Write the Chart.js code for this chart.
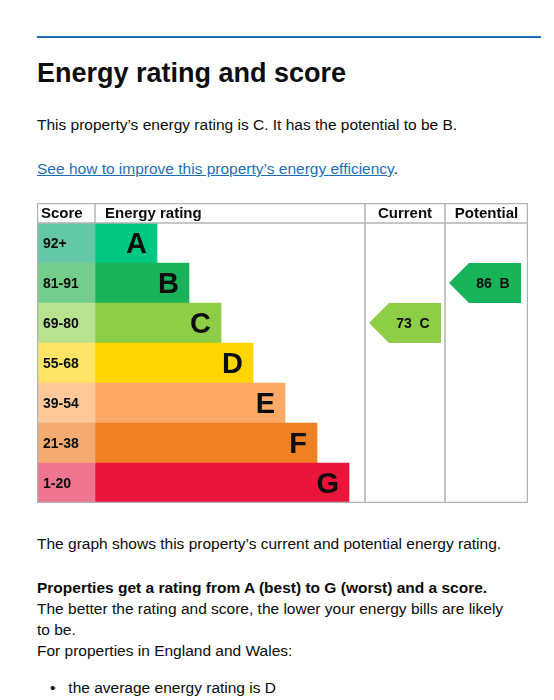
<!DOCTYPE html>
<html><head><meta charset="utf-8">
<script src="https://cdn.jsdelivr.net/npm/chart.js@4"></script>
<style>
body{margin:0;font-family:"Liberation Sans",Arial,sans-serif;color:#0b0c0c;width:554px;height:700px;overflow:hidden;position:relative;background:#fff}
.a{position:absolute;left:37px;margin:0}
</style></head><body>
<div style="position:absolute;left:37px;top:36px;width:504px;height:2px;background:#1d70b8"></div>
<h2 class="a" style="top:58px;font-size:27px;font-weight:bold">Energy rating and score</h2>
<p class="a" style="top:116px;font-size:15.5px">This property’s energy rating is C. It has the potential to be B.</p>
<p class="a" style="top:160px;font-size:15.5px"><a style="color:#1d70b8" href="#">See how to improve this property’s energy efficiency</a>.</p>
<div style="position:absolute;left:37px;top:203px;width:491px;height:300px"><canvas id="c"></canvas></div>
<p class="a" style="top:535px;font-size:15.5px">The graph shows this property’s current and potential energy rating.</p>
<p class="a" style="top:577px;font-size:15.5px;line-height:21px;width:480px"><b>Properties get a rating from A (best) to G (worst) and a score.</b> The better the rating and score, the lower your energy bills are likely to be.</p>
<p class="a" style="top:642px;font-size:15.5px">For properties in England and Wales:</p>
<p class="a" style="top:679px;font-size:15.5px;left:50px">•&nbsp;&nbsp;&nbsp;the average energy rating is D</p>
<script>
const bands=["A","B","C","D","E","F","G"];
const scoreRanges=["92+","81-91","69-80","55-68","39-54","21-38","1-20"];
const bandMins=[92,81,69,55,39,21,1];
const bandEnds=[120,152,184,216,248,280,312];
const bandColors=["#00c781","#19b459","#8dce46","#ffd500","#fcaa65","#ef8023","#e9153b"];
const scoreColors=["#64c8a6","#75cd8b","#b8e190","#ffe465","#fec898","#f4ab72","#f07590"];
const currentScore=73, potentialScore=86;
const SC=58, CUR=328, POT=408, MAX=491;
function bandOf(s){return bandMins.findIndex(m=>s>=m);}
const F='"Liberation Sans",Arial,sans-serif';
const plug={id:'epc',afterDatasetsDraw(ch){
 const c=ch.ctx,x=ch.scales.x,y=ch.scales.y,X=v=>x.getPixelForValue(v);
 const top=0,bot=ch.height,hb=y.getPixelForValue(0)-y.height/14;
 c.save();c.strokeStyle='#b1b4b6';c.lineWidth=1.5;
 c.strokeRect(X(0)+.5,top+.5,X(MAX)-X(0)-1,bot-1);
 [[CUR,0,bot],[POT,0,bot],[SC,0,hb]].forEach(([v,a,b])=>{c.beginPath();c.moveTo(X(v),a);c.lineTo(X(v),b);c.stroke();});
 c.beginPath();c.moveTo(X(0),hb);c.lineTo(X(MAX),hb);c.stroke();
 c.fillStyle='#0b0c0c';c.font='bold 15px '+F;c.textBaseline='middle';
 c.fillText('Score',X(4),hb/2+1);c.fillText('Energy rating',X(68),hb/2+1);
 c.textAlign='center';c.fillText('Current',(X(CUR)+X(POT))/2,hb/2+1);c.fillText('Potential',(X(POT)+X(MAX))/2,hb/2+1);
 c.textAlign='left';c.font='bold 14px '+F;
 scoreRanges.forEach((s,i)=>c.fillText(s,X(6),y.getPixelForValue(i)+1));
 c.font='bold 29px '+F;c.textAlign='right';
 bands.forEach((b,i)=>c.fillText(b,X(bandEnds[i]-10),y.getPixelForValue(i)+2));
 [[currentScore,CUR],[potentialScore,POT]].forEach(([s,col])=>{
  const i=bandOf(s),cy=y.getPixelForValue(i),h=y.height/14,l=X(col+4),r=X(col+76);
  c.fillStyle=bandColors[i];c.beginPath();c.moveTo(l,cy);c.lineTo(l+20,cy-h);c.lineTo(r,cy-h);c.lineTo(r,cy+h);c.lineTo(l+20,cy+h);c.closePath();c.fill();
  c.fillStyle='#0b0c0c';c.font='bold 14px '+F;c.textAlign='center';
  c.fillText(s+'  '+bands[i],(l+20+r)/2-2,cy+1);});
 c.restore();}};
new Chart(document.getElementById('c'),{type:'bar',
 data:{labels:bands,datasets:[
  {data:bands.map(()=>[0,SC]),backgroundColor:scoreColors},
  {data:bandEnds.map(e=>[SC,e]),backgroundColor:bandColors}]},
 options:{indexAxis:'y',responsive:true,maintainAspectRatio:false,animation:false,
  layout:{padding:{top:20}},
  datasets:{bar:{grouped:false,barPercentage:1,categoryPercentage:1,borderWidth:0}},
  plugins:{legend:{display:false},tooltip:{enabled:false}},
  scales:{x:{type:'linear',min:0,max:MAX,display:false},y:{display:false}}},
 plugins:[plug]});
</script></body></html>
